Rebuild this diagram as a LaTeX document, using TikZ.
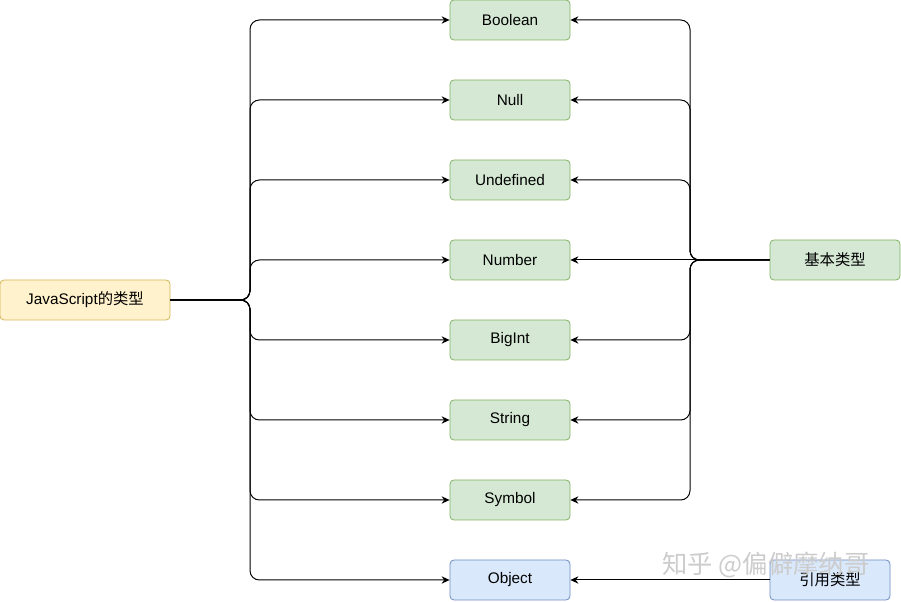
\documentclass[tikz,border=0pt]{standalone}
\usepackage{fontspec}
\setmainfont{Liberation Sans}
\newfontfamily\cjk{Noto Sans CJK SC}
\usetikzlibrary{arrows.meta}
\definecolor{greenfill}{HTML}{D5E8D4}
\definecolor{greenline}{HTML}{82B366}
\definecolor{bluefill}{HTML}{DAE8FC}
\definecolor{blueline}{HTML}{6C8EBF}
\definecolor{yellowfill}{HTML}{FFF2CC}
\definecolor{yellowline}{HTML}{D6B656}
\tikzset{
  box/.style={rounded corners=3pt, minimum width=90pt, minimum height=30pt, inner sep=0pt, line width=0.6pt},
  typebox/.style={box, draw=greenline, fill=greenfill},
  objbox/.style={box, draw=blueline, fill=bluefill},
  rootbox/.style={box, draw=yellowline, fill=yellowfill, minimum width=127.5pt},
  link/.style={->, rounded corners=7pt}
}
\begin{document}
\begin{tikzpicture}[x=0.75pt, y=-0.75pt, font=\fontsize{11.5}{13}\selectfont, >={Stealth[length=6pt,width=5.5pt]}, line join=round, line width=0.75pt]
\useasboundingbox (0,0) rectangle (901,602);
\node[rootbox] (js) at (85,300) {JavaScript{\cjk 的类型}};
\foreach \name/\y in {Boolean/20, Null/100, Undefined/180, Number/260, BigInt/340, String/420, Symbol/500}
  \node[typebox] (\name) at (510,\y) {\name};
\node[objbox] (Object) at (510,580) {Object};
\node[typebox, minimum width=97.5pt] (basic) at (835,260) {\cjk 基本类型};
\node[objbox] (ref) at (830,580) {\cjk 引用类型};
\coordinate (jsfork) at (250,300);
\coordinate (basicfork) at (690,260);
\foreach \name in {Boolean, Null, Undefined, Number, BigInt, String, Symbol, Object}
  \draw[link] (js.east) -- (jsfork) |- (\name.west);
\foreach \name in {Boolean, Null, Undefined, BigInt, String, Symbol}
  \draw[link] (basic.west) -- (basicfork) |- (\name.east);
\draw[->] (basic) -- (Number);
\draw[->] (ref) -- (Object);
\node[text=gray!40, font=\cjk\fontsize{19}{20}\selectfont, inner sep=0pt] (mark) at (766,565) {知乎 @偏僻摩纳哥};
\end{tikzpicture}
\end{document}
